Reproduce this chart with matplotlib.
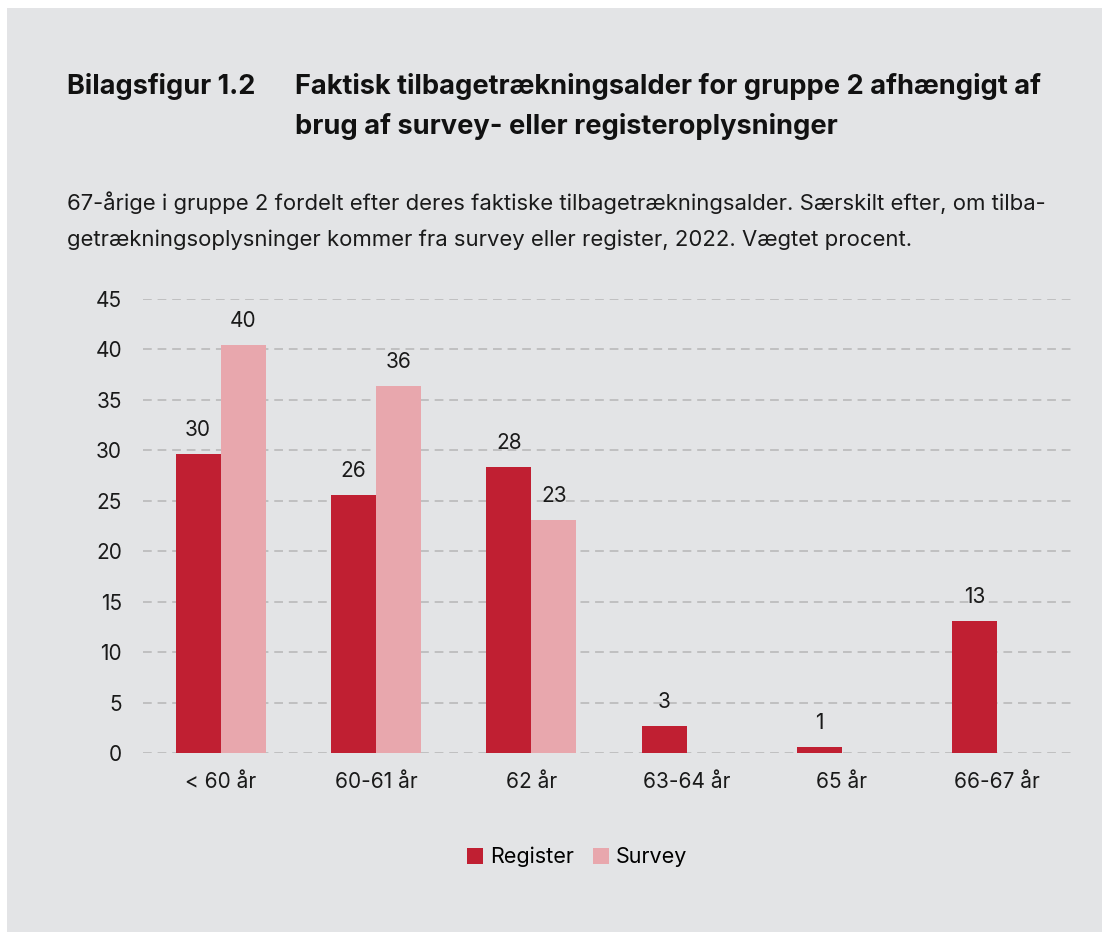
import matplotlib.pyplot as plt
from matplotlib.patches import Rectangle
import numpy as np

plt.rcParams['font.family'] = ['Inter', 'DejaVu Sans']

categories = ['< 60 år', '60-61 år', '62 år', '63-64 år', '65 år', '66-67 år']
register = [29.6, 25.6, 28.3, 2.7, 0.6, 13.1]
survey = [40.4, 36.4, 23.1, 0, 0, 0]
register_labels = ['30', '26', '28', '3', '1', '13']
survey_labels = ['40', '36', '23', '', '', '']

bg = '#e3e4e6'
red = '#c01f32'
pink = '#e8a7ad'
txt = '#1a1a1a'

W, H = 1104, 933
fig = plt.figure(figsize=(W / 100, H / 100), dpi=100)
fig.patch.set_facecolor('white')
# grey panel with thin white margin round it, as in the reference
fig.patches.append(Rectangle((7 / W, 1 / H), 1095 / W, 924 / H, transform=fig.transFigure,
                             facecolor=bg, edgecolor='none', zorder=-10))

ax = fig.add_axes([143 / W, 180 / H, 932 / W, 454 / H])
ax.set_facecolor(bg)

x = np.arange(len(categories))
w = 0.29
b1 = ax.bar(x - w / 2, register, w, color=red, label='Register', zorder=3)
b2 = ax.bar(x + w / 2, survey, w, color=pink, label='Survey', zorder=3)

for rect, lab in zip(b1, register_labels):
    ax.text(rect.get_x() + rect.get_width() / 2, rect.get_height() + 1.4, lab,
            ha='center', va='bottom', fontsize=15, color=txt)
for rect, lab in zip(b2, survey_labels):
    if lab:
        ax.text(rect.get_x() + rect.get_width() / 2, rect.get_height() + 1.4, lab,
                ha='center', va='bottom', fontsize=15, color=txt)

ax.set_xlim(-0.5, 5.5)
ax.set_ylim(0, 45)
ax.set_yticks(range(0, 46, 5))
ax.set_xticks(x)
ax.set_xticklabels(categories)
ax.yaxis.grid(True, color='#c0c0c0', linestyle=(0, (4.5, 3)), linewidth=1.4, zorder=0)
ax.tick_params(axis='both', length=0, labelsize=15, colors=txt)
ax.tick_params(axis='y', pad=15)
ax.tick_params(axis='x', pad=14)
for s in ax.spines.values():
    s.set_visible(False)

fig.text(67 / W, 1 - 86 / H, 'Bilagsfigur 1.2', fontsize=19.5, fontweight='bold',
         va='center', ha='left', color='#111111')
fig.text(295 / W, 1 - 86 / H, 'Faktisk tilbagetrækningsalder for gruppe 2 afhængigt af',
         fontsize=19.6, fontweight='bold', va='center', ha='left', color='#111111')
fig.text(295 / W, 1 - 127 / H, 'brug af survey- eller registeroplysninger',
         fontsize=19.6, fontweight='bold', va='center', ha='left', color='#111111')
fig.text(67 / W, 1 - 203 / H,
         '67-årige i gruppe 2 fordelt efter deres faktiske tilbagetrækningsalder. Særskilt efter, om tilba-',
         fontsize=15.9, va='center', ha='left', color=txt)
fig.text(67 / W, 1 - 240 / H,
         'getrækningsoplysninger kommer fra survey eller register, 2022. Vægtet procent.',
         fontsize=15.9, va='center', ha='left', color=txt)

fig.legend(handles=[b1, b2], labels=['Register', 'Survey'], loc='center',
           bbox_to_anchor=(577 / W, 1 - 857 / H), ncol=2, frameon=False,
           fontsize=15.5, handlelength=0.75, handleheight=0.75, handletextpad=0.3,
           columnspacing=0.9)

fig.savefig('out.png', dpi=100, facecolor='white')
